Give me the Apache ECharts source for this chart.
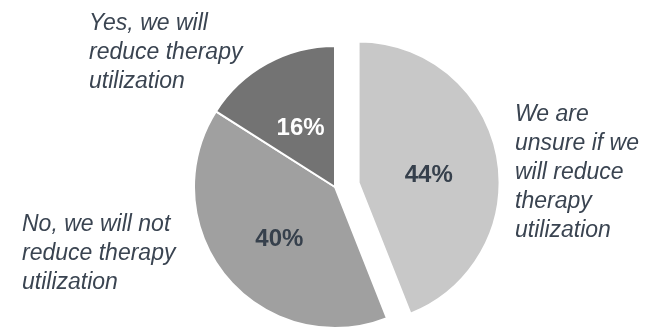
<!DOCTYPE html>
<html>
<head>
<meta charset="utf-8">
<script src="https://cdn.jsdelivr.net/npm/echarts@6/dist/echarts.min.js"></script>
<style>
  html, body { margin: 0; padding: 0; background: #fff; }
  #chart { width: 655px; height: 327px; }
</style>
</head>
<body>
<div id="chart"></div>
<script>
  // answers, clockwise from 12 o'clock
  var categories = [
    'We are\nunsure if we\nwill reduce\ntherapy\nutilization',
    'No, we will not\nreduce therapy\nutilization',
    'Yes, we will\nreduce therapy\nutilization'
  ];
  var shares = [44, 40, 16];

  var sliceColors = ['#c8c8c8', '#a0a0a0', '#737373'];
  var valueColors = ['#36404c', '#36404c', '#ffffff'];
  // where the long answer texts sit: [left x, y of middle line]
  var namePos = [[515, 173], [22, 254], [89, 53]];

  var textColor = '#3a4451';
  var font = 'Liberation Sans, Arial, sans-serif';

  var sliceData = shares.map(function (v, i) {
    return {
      name: categories[i],
      value: v,
      selected: i === 0,
      itemStyle: { color: sliceColors[i] },
      label: { color: valueColors[i] },
      select: { label: { color: valueColors[i], offset: [-2, 7] } }
    };
  });

  var nameTexts = categories.map(function (name, i) {
    return {
      type: 'text',
      x: namePos[i][0],
      y: namePos[i][1],
      silent: true,
      style: {
        text: name,
        fill: textColor,
        font: 'italic 23px ' + font,
        lineHeight: 29,
        align: 'left',
        verticalAlign: 'middle'
      }
    };
  });

  var chart = echarts.init(document.getElementById('chart'));
  chart.setOption({
    animation: false,
    graphic: nameTexts,
    series: [
      {
        type: 'pie',
        center: [335, 187],
        radius: 141,
        startAngle: 90,
        clockwise: true,
        selectedMode: 'single',
        selectedOffset: 24,
        silent: true,
        itemStyle: { borderColor: '#fff', borderWidth: 2 },
        label: {
          show: true,
          position: 'inside',
          formatter: '{c}%',
          fontFamily: font,
          fontWeight: 'bold',
          fontSize: 24,
          offset: [1, 6]
        },
        labelLine: { show: false },
        data: sliceData
      }
    ]
  });
</script>
</body>
</html>
